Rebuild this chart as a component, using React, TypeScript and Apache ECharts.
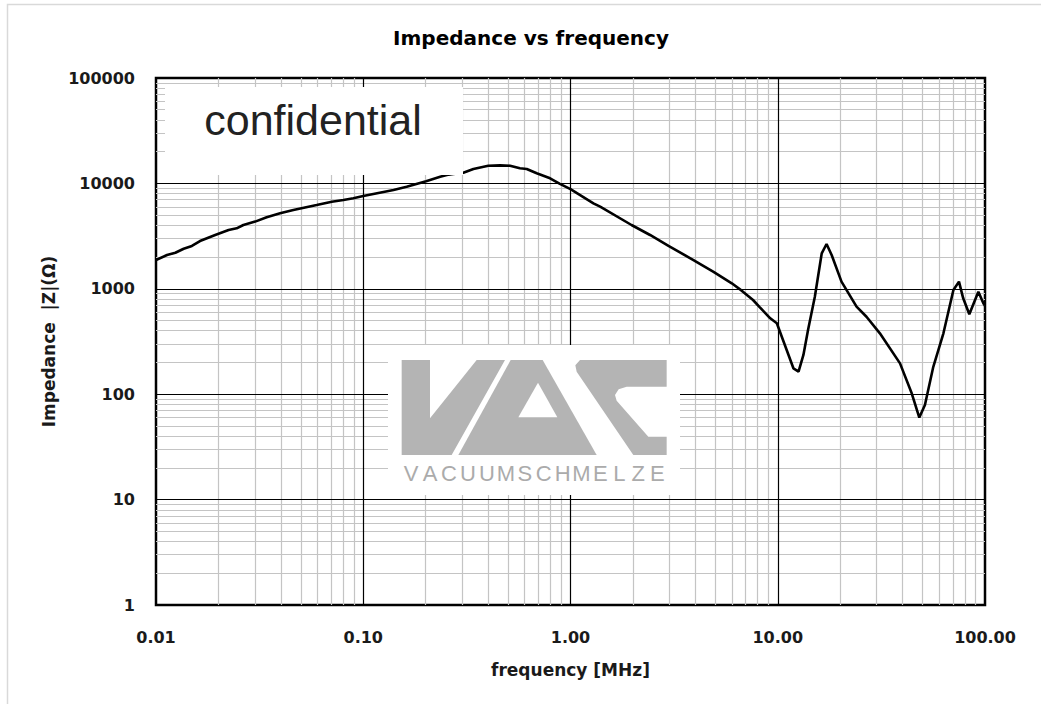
import React, { useEffect, useRef } from "react";
import * as echarts from "echarts";

// ---- data ----
const frequencyMHz = [
  0.01, 0.0113, 0.0124, 0.0136, 0.0149, 0.0163, 0.0193, 0.0224, 0.0245, 0.0264,
  0.0301, 0.0342, 0.0397, 0.046, 0.0596, 0.0705, 0.0802, 0.0896, 0.1, 0.12,
  0.14, 0.162, 0.201, 0.235, 0.253, 0.272, 0.304, 0.34, 0.401, 0.457,
  0.511, 0.57, 0.615, 0.687, 0.797, 0.889, 1.0, 1.29, 1.39, 1.97,
  2.42, 2.97, 3.92, 4.9, 6.0, 6.7, 7.6, 8.2, 9.2, 9.9,
  10.6, 11.9, 12.6, 13.3, 14.0, 15.1, 16.3, 17.2, 18.2, 20.3,
  24, 26.8, 31.1, 38.9, 44.3, 48.2, 51.3, 56.3, 63, 70.4,
  74.9, 78.5, 84, 92.9, 98.2, 100,
];
const impedanceOhm = [
  1875, 2090, 2200, 2400, 2550, 2840, 3240, 3610, 3750, 4030,
  4340, 4770, 5200, 5600, 6240, 6710, 6960, 7220, 7590, 8160,
  8650, 9300, 10500, 11580, 12020, 12280, 12640, 13700, 14720, 14830,
  14720, 13900, 13700, 12470, 11170, 9900, 8820, 6470, 6010, 4030,
  3240, 2550, 1875, 1450, 1127, 960, 783, 667, 525, 471,
  327, 176, 164, 236, 407, 841, 2170, 2660, 2090, 1170,
  677, 543, 378, 196, 102, 60, 79, 182, 378, 975,
  1170, 812, 573, 939, 728, 690,
];
const xDecades = [0.01, 0.1, 1, 10, 100];
const xTickLabels = ["0.01", "0.10", "1.00", "10.00", "100.00"];
const yDecades = [1, 10, 100, 1000, 10000, 100000];
const yTickLabels = ["1", "10", "100", "1000", "10000", "100000"];
const minorSteps = [2, 3, 4, 5, 6, 7, 8, 9];

const TITLE = "Impedance vs frequency";
const X_NAME = "frequency [MHz]";
const Y_NAME = "Impedance  |Z|(Ω)";
const WATERMARK = "confidential";
const LOGO_TEXT = "VACUUMSCHMELZE";

const FONT = '"DejaVu Sans", sans-serif';

function nearestLabel(v: number, decades: number[], labels: string[]) {
  let best = 0;
  let bd = Infinity;
  decades.forEach((d, i) => {
    const diff = Math.abs(Math.log10(v) - Math.log10(d));
    if (diff < bd) {
      bd = diff;
      best = i;
    }
  });
  return labels[best];
}

export default function App() {
  const ref = useRef<HTMLDivElement>(null);
  useEffect(() => {
    const chart = echarts.init(ref.current!, null, { renderer: "svg" });

    const minorX = xDecades.slice(0, -1).flatMap((d) => minorSteps.map((k) => +(k * d).toPrecision(3)));
    const minorY = yDecades.slice(0, -1).flatMap((d) => minorSteps.map((k) => +(k * d).toPrecision(3)));
    const majorX = xDecades.slice(1, -1);
    const majorY = yDecades.slice(1, -1);

    // logo geometry (decoration), in a local 3x-scaled frame
    const ox = 380, oy = 340;
    const P = (pts: number[][]) => pts.map(([a, b]) => [ox + a / 3, oy + b / 3]);
    const grey = "#b4b4b4";
    const vShape = P([[65, 60], [150, 60], [150, 235], [290, 60], [375, 60], [215, 345], [65, 345]]);
    const aShape = P([[235, 345], [392, 60], [488, 60], [650, 345]]);
    const aHole = P([[415, 232], [532, 232], [474, 128]]);
    const cShape = P([[600, 60], [860, 60], [860, 140], [740, 140], [716, 148], [705, 165], [710, 182], [805, 290], [860, 290], [860, 345], [760, 345], [590, 95], [586, 76]]);

    const letterLeft = 401.7, letterRight = 666.7;
    const pitch = (letterRight - letterLeft) / LOGO_TEXT.length;
    const letters = LOGO_TEXT.split("").map((ch, i) => ({
      type: "text",
      z: 21,
      x: letterLeft + pitch * (i + 0.5),
      y: 473,
      style: {
        text: ch,
        fontSize: 22,
        fontFamily: '"Liberation Sans", Arial, sans-serif',
        fill: "#ababab",
        align: "center",
        verticalAlign: "middle",
      },
    }));

    const gridMark = (color: string, z: number, data: any[]) => ({
      silent: true,
      z,
      symbol: ["none", "none"],
      animation: false,
      label: { show: false },
      lineStyle: { color, width: 1.2, type: "solid" },
      emphasis: { disabled: true },
      data,
    });

    const option: any = {
      animation: false,
      backgroundColor: "#ffffff",
      grid: {
        left: 156,
        right: 56,
        top: 78,
        bottom: 99,
        show: true,
        borderColor: "#000000",
        borderWidth: 2.5,
        backgroundColor: "#ffffff",
        containLabel: false,
      },
      xAxis: {
        type: "log",
        logBase: 10,
        min: 0.01,
        max: 100,
        name: X_NAME,
        nameLocation: "middle",
        nameGap: 56,
        nameTextStyle: { fontFamily: FONT, fontWeight: "bold", fontSize: 17, color: "#1a1a1a" },
        axisLine: { show: false },
        axisTick: { show: false },
        splitLine: { show: false },
        minorTick: { show: false },
        minorSplitLine: { show: false },
        axisLabel: {
          margin: 24,
          fontFamily: FONT,
          fontWeight: "bold",
          fontSize: 16,
          color: "#1a1a1a",
          formatter: (v: number) => nearestLabel(v, xDecades, xTickLabels),
        },
      },
      yAxis: {
        type: "log",
        logBase: 10,
        min: 1,
        max: 100000,
        name: Y_NAME,
        nameLocation: "middle",
        nameGap: 94,
        nameRotate: 90,
        nameTextStyle: { fontFamily: FONT, fontWeight: "bold", fontSize: 17, color: "#1a1a1a" },
        axisLine: { show: false },
        axisTick: { show: false },
        splitLine: { show: false },
        minorTick: { show: false },
        minorSplitLine: { show: false },
        axisLabel: {
          margin: 21,
          fontFamily: FONT,
          fontWeight: "bold",
          fontSize: 16,
          color: "#1a1a1a",
          formatter: (v: number) => nearestLabel(v, yDecades, yTickLabels),
        },
      },
      series: [
        {
          type: "line",
          name: "minor grid",
          data: [],
          z: 1,
          silent: true,
          markLine: gridMark("#c4c4c4", 1, [...minorX.map((v) => ({ xAxis: v })), ...minorY.map((v) => ({ yAxis: v }))]),
        },
        {
          type: "line",
          name: "major grid",
          data: [],
          z: 1.5,
          silent: true,
          markLine: gridMark("#000000", 1.5, [...majorX.map((v) => ({ xAxis: v })), ...majorY.map((v) => ({ yAxis: v }))]),
        },
        {
          type: "line",
          name: "|Z|",
          z: 6,
          data: frequencyMHz.map((f, i) => [f, impedanceOhm[i]]),
          showSymbol: false,
          symbol: "none",
          smooth: false,
          lineStyle: { color: "#000000", width: 2.6 },
          silent: true,
        },
      ],
      graphic: [
        {
          type: "rect",
          z: 0,
          shape: { x: 7.5, y: 4.5, width: 1200, height: 900 },
          style: { fill: "none", stroke: "#d9d9d9", lineWidth: 1.5 },
          silent: true,
        },
        {
          type: "text",
          z: 20,
          x: 531,
          y: 38,
          style: {
            text: TITLE,
            fontFamily: FONT,
            fontWeight: "bold",
            fontSize: 20,
            fill: "#000000",
            align: "center",
            verticalAlign: "middle",
          },
        },
        {
          type: "rect",
          z: 20,
          shape: { x: 165, y: 87, width: 298, height: 88 },
          style: { fill: "#ffffff", stroke: "none" },
          silent: true,
        },
        {
          type: "text",
          z: 21,
          x: 313,
          y: 120,
          style: {
            text: WATERMARK,
            fontFamily: '"Liberation Sans", Arial, sans-serif',
            fontSize: 43,
            fill: "#222222",
            align: "center",
            verticalAlign: "middle",
          },
        },
        {
          type: "rect",
          z: 20,
          shape: { x: 388, y: 345, width: 292, height: 150 },
          style: { fill: "#ffffff", stroke: "none" },
          silent: true,
        },
        { type: "polygon", z: 21, shape: { points: vShape }, style: { fill: grey } },
        { type: "polygon", z: 21, shape: { points: aShape }, style: { fill: grey } },
        { type: "polygon", z: 22, shape: { points: aHole }, style: { fill: "#ffffff" } },
        { type: "polygon", z: 21, shape: { points: cShape }, style: { fill: grey } },
        ...letters,
      ],
    };

    chart.setOption(option);
    return () => chart.dispose();
  }, []);
  return (
    <div
      ref={ref}
      style={{ position: "fixed", left: 0, top: 0, width: 1041, height: 704, background: "#ffffff" }}
    />
  );
}
